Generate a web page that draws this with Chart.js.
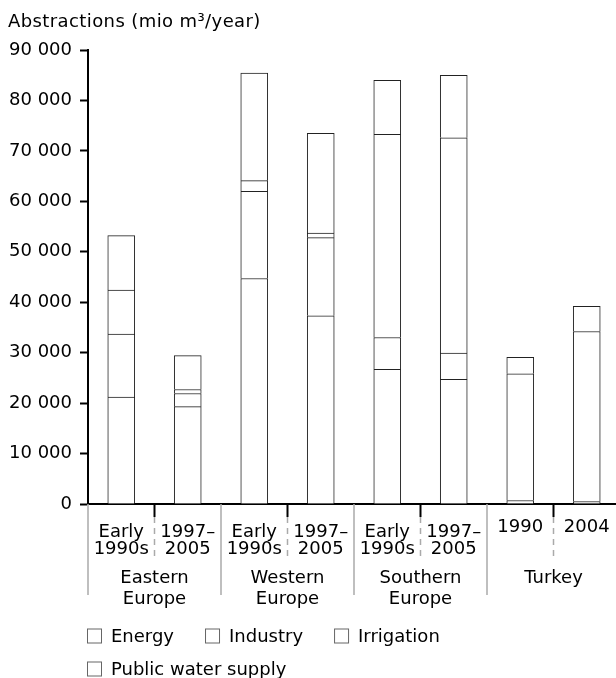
<!DOCTYPE html>
<html>
<head>
<meta charset="utf-8">
<script src="https://cdn.jsdelivr.net/npm/chart.js@4"></script>
<style>
  html, body { margin: 0; padding: 0; background: #fff; overflow: hidden; }
  canvas { display: block; }
</style>
</head>
<body>
<canvas id="abstractionChart" width="624" height="678"></canvas>
<script>
// sub-category (period) labels, one per bar
const periods = [['Early', '1990s'], ['1997–', '2005'], ['Early', '1990s'], ['1997–', '2005'],
                 ['Early', '1990s'], ['1997–', '2005'], ['1990'], ['2004']];
// region labels, each covering two bars
const regions = [['Eastern', 'Europe'], ['Western', 'Europe'], ['Southern', 'Europe'], ['Turkey']];

// mio m3/year
const energy      = [21200, 19300, 44700, 37300, 26700, 24700,   700,   500];
const industry    = [12500,  2600, 17300, 15500,  6300,  5200,     0,     0];
const irrigation  = [ 8700,   800,  2100,   900, 40300, 42700, 25100, 33700];
const publicWater = [10800,  6700, 21300, 19800, 10700, 12400,  3300,  5000];

const yTitle = 'Abstractions (mio m³/year)';

Chart.defaults.font.family = 'DejaVu Sans';
Chart.defaults.font.size = 18;
Chart.defaults.color = '#000';

function series(label, data) {
  return {
    label: label,
    data: data,
    backgroundColor: '#fff',
    borderColor: '#222',
    borderWidth: 1,
    barThickness: 27
  };
}

// axis title, two-level category labels and separators
const groupAxis = {
  id: 'groupAxis',
  afterDraw(chart) {
    const ctx = chart.ctx;
    const x = chart.scales.x;
    const area = chart.chartArea;
    const base = area.bottom;
    const n = periods.length;
    const bounds = [];
    for (let b = 0; b <= n; b++) {
      if (b === 0) bounds.push(area.left);
      else if (b === n) bounds.push(area.right);
      else bounds.push((x.getPixelForValue(b - 1) + x.getPixelForValue(b)) / 2);
    }
    ctx.save();
    bounds.forEach((bx, b) => {
      if (b % 2 === 0) {
        ctx.strokeStyle = '#aaa';
        ctx.lineWidth = 1.5;
        ctx.setLineDash([]);
        ctx.beginPath(); ctx.moveTo(bx, base); ctx.lineTo(bx, base + 91); ctx.stroke();
      } else {
        ctx.strokeStyle = '#000';
        ctx.lineWidth = 2;
        ctx.setLineDash([]);
        ctx.beginPath(); ctx.moveTo(bx, base); ctx.lineTo(bx, base + 13); ctx.stroke();
        ctx.strokeStyle = '#aaa';
        ctx.lineWidth = 1.5;
        ctx.setLineDash([6, 5]);
        ctx.beginPath(); ctx.moveTo(bx, base + 13); ctx.lineTo(bx, base + 55); ctx.stroke();
      }
    });
    ctx.setLineDash([]);
    ctx.fillStyle = '#000';
    ctx.font = '18px "DejaVu Sans"';
    ctx.textAlign = 'center';
    ctx.textBaseline = 'middle';
    periods.forEach((lines, i) => {
      const px = x.getPixelForValue(i);
      if (lines.length === 1) {
        ctx.fillText(lines[0], px, base + 23);
      } else {
        ctx.fillText(lines[0], px, base + 28);
        ctx.fillText(lines[1], px, base + 45);
      }
    });
    regions.forEach((lines, g) => {
      const gx = (bounds[2 * g] + bounds[2 * g + 2]) / 2;
      lines.forEach((t, k) => ctx.fillText(t, gx, base + 74 + k * 21));
    });
    ctx.textAlign = 'left';
    ctx.letterSpacing = '0.4px';
    ctx.fillText(yTitle, 8, 22);
    ctx.restore();
  }
};

// legend with outlined boxes, wrapping like the original
const boxLegend = {
  id: 'boxLegend',
  afterDraw(chart) {
    const ctx = chart.ctx;
    ctx.save();
    ctx.font = '18px "DejaVu Sans"';
    ctx.textBaseline = 'middle';
    ctx.textAlign = 'left';
    let lx = 87, ly = 636;
    chart.data.datasets.forEach(ds => {
      const w = 24 + ctx.measureText(ds.label).width;
      if (lx + w > 600) { lx = 87; ly += 33; }
      ctx.fillStyle = ds.backgroundColor;
      ctx.fillRect(lx, ly - 7.5, 15, 15);
      ctx.strokeStyle = '#666';
      ctx.lineWidth = 1;
      ctx.strokeRect(lx + 0.5, ly - 7, 14, 14);
      ctx.fillStyle = '#000';
      ctx.fillText(ds.label, lx + 24, ly + 1);
      lx += w + 31;
    });
    ctx.restore();
  }
};

new Chart(document.getElementById('abstractionChart'), {
  type: 'bar',
  data: {
    labels: periods.map(p => p.join(' ')),
    datasets: [
      series('Energy', energy),
      series('Industry', industry),
      series('Irrigation', irrigation),
      series('Public water supply', publicWater)
    ]
  },
  options: {
    responsive: false,
    animation: false,
    layout: { padding: { left: 8, top: 50, right: 4, bottom: 166 } },
    plugins: {
      legend: { display: false },
      tooltip: { enabled: false }
    },
    scales: {
      x: {
        stacked: true,
        grid: { display: false },
        ticks: { display: false },
        border: { color: '#000', width: 2 }
      },
      y: {
        stacked: true,
        min: 0,
        max: 90000,
        afterFit(scale) { scale.width = 80; },
        ticks: {
          stepSize: 10000,
          padding: 8,
          color: '#000',
          callback: v => v === 0 ? '0' : (v / 1000) + ' 000'
        },
        grid: {
          drawOnChartArea: false,
          tickLength: 8,
          tickColor: '#000',
          tickWidth: 2
        },
        border: { color: '#000', width: 2 }
      }
    }
  },
  plugins: [groupAxis, boxLegend]
});
</script>
</body>
</html>
